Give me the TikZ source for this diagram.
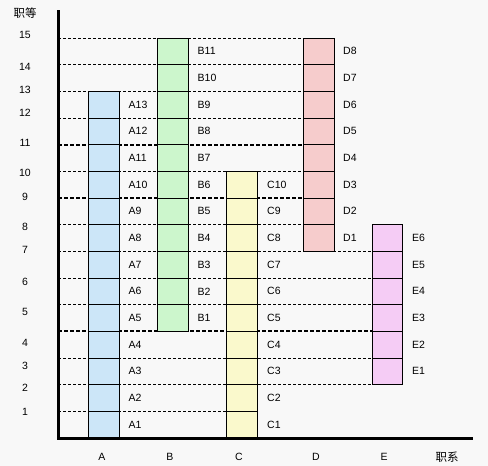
\documentclass[tikz,border=0pt]{standalone}
\usepackage{fontspec}
\setmainfont{Liberation Sans}
\newfontfamily\cjk{Noto Sans CJK SC}
\definecolor{bgc}{RGB}{248,248,248}
\definecolor{colA}{RGB}{204,230,248}
\definecolor{colB}{RGB}{204,246,204}
\definecolor{colC}{RGB}{250,249,204}
\definecolor{colD}{RGB}{246,204,204}
\definecolor{colE}{RGB}{245,204,245}
\begin{document}
\begin{tikzpicture}[x=1pt,y=-1pt,
  cell/.style={draw=black,line width=0.8pt,rectangle,inner sep=0pt,minimum width=30.5pt,minimum height=26.667pt},
  lbl/.style={anchor=west,inner sep=0pt,font=\fontsize{10.5}{12}\selectfont},
  num/.style={inner sep=0pt,font=\fontsize{10.5}{12}\selectfont},
  gridline/.style={line width=0.8pt,dash pattern=on 3pt off 2pt},
  thickgrid/.style={line width=2pt,dash pattern=on 4pt off 2pt},
  axisline/.style={line width=3pt}]
\fill[bgc] (0,0) rectangle (488,466);
\useasboundingbox (0,0) rectangle (488,466);
\def\rh{26.667}
% grid lines
\foreach \k/\xe in {15/304,14/304,13/304,12/304,10/304,8/304,7/373,6/373,5/373,3/373,2/373,1/227}
  \draw[gridline] (58,{438-\k*\rh}) -- (\xe,{438-\k*\rh});
\foreach \k/\xe in {11/304,9/304,4/373}
  \draw[thickgrid] (58,{438-\k*\rh}) -- (\xe,{438-\k*\rh});
% columns
\foreach \i in {1,...,13}{
  \node[cell,fill=colA] (A\i) at (103.8,{438-(\i-0.5)*\rh}) {};
  \node[lbl] (lA\i) at (128.5,{438-(\i-0.5)*\rh}) {A\i};}
\foreach \i in {1,...,11}{
  \node[cell,fill=colB] (B\i) at (172.8,{438-(\i+3.5)*\rh}) {};
  \node[lbl] (lB\i) at (197.5,{438-(\i+3.5)*\rh}) {B\i};}
\foreach \i in {1,...,10}{
  \node[cell,fill=colC] (C\i) at (242,{438-(\i-0.5)*\rh}) {};
  \node[lbl] (lC\i) at (267,{438-(\i-0.5)*\rh}) {C\i};}
\foreach \i in {1,...,8}{
  \node[cell,fill=colD] (D\i) at (318.7,{438-(\i+6.5)*\rh}) {};
  \node[lbl] (lD\i) at (343,{438-(\i+6.5)*\rh}) {D\i};}
\foreach \i in {1,...,6}{
  \node[cell,fill=colE] (E\i) at (387.5,{438-(\i+1.5)*\rh}) {};
  \node[lbl] (lE\i) at (412,{438-(\i+1.5)*\rh}) {E\i};}
% axes
\coordinate (ytop) at (58,10);
\coordinate (orig) at (58,438);
\coordinate (xend) at (473,438);
\draw[axisline] (ytop) -- (orig) -- (xend);
% y numbers
\foreach \n/\y in {15/35,14/67,13/90,12/113,11/143,10/173,9/197,8/227,7/250,6/282,5/312,4/343,3/366,2/388,1/412}
  \node[num] (y\n) at (25,\y) {\n};
\node[inner sep=0pt,font=\cjk\fontsize{11.5}{12}\selectfont] (ylab) at (25,13) {职等};
% x letters
\foreach \c/\x in {A/102,B/170,C/239,D/316,E/384}
  \node[num] (x\c) at (\x,457) {\c};
\node[inner sep=0pt,font=\cjk\fontsize{11.5}{12}\selectfont] (xlab) at (447,457) {职系};
\end{tikzpicture}
\end{document}
